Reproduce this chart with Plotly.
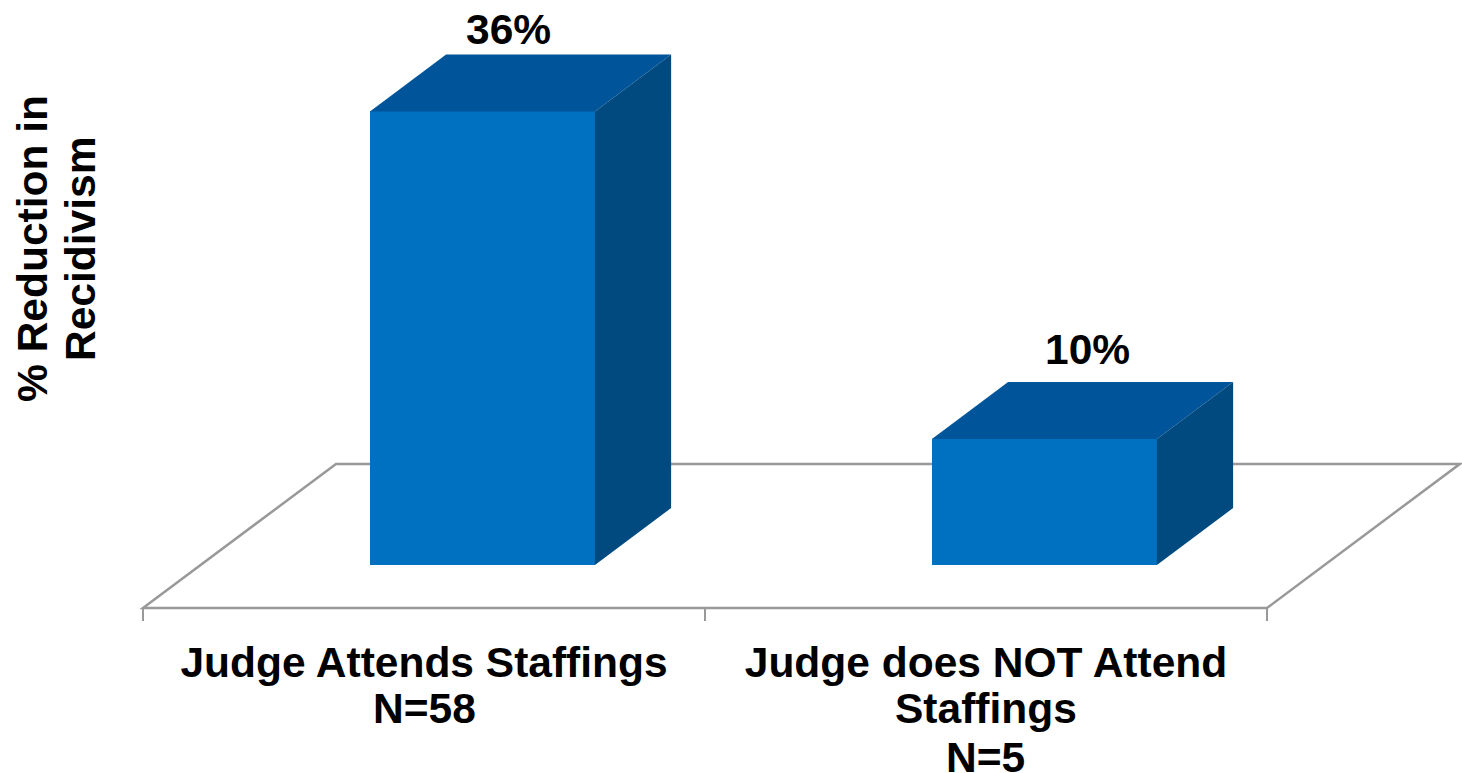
import plotly.graph_objects as go

# Data
categories_first_line = ["Judge Attends Staffings", "Judge does NOT Attend"]
categories_more_lines = [["N=58"], ["Staffings", "N=5"]]
reductions = [36, 10]
y_title_lines = ["% Reduction in", "Recidivism"]

# Geometry / style
POS = [0, 1]
BAR_SHIFT = 0.104
BAR_W = 0.4004
DEPTH_X = 0.1355
DEPTH_Y = 4.52
FLOOR_FRONT_Y = -3.41
FLOOR_BACK_Y = 8.016
FRONT = "#0070C0"
TOP = "#00559A"
SIDE = "#004A80"
GREY = "#999999"
FONT = "Liberation Sans"
SIZE = 42.5
LABEL_SHIFT = [(26, 25), (43.5, 33)]

fig = go.Figure()

xs = [p + BAR_SHIFT for p in POS]
fig.add_trace(go.Bar(x=xs, y=reductions, width=BAR_W, marker=dict(color=FRONT, line=dict(width=0)),
                     showlegend=False, hoverinfo="skip"))

for x, v in zip(xs, reductions):
    L, R = x - BAR_W / 2, x + BAR_W / 2
    fig.add_trace(go.Scatter(x=[L, R, R + DEPTH_X, L + DEPTH_X, L], y=[v, v, v + DEPTH_Y, v + DEPTH_Y, v],
                             mode="lines", fill="toself", fillcolor=TOP, line=dict(width=0),
                             showlegend=False, hoverinfo="skip"))
    fig.add_trace(go.Scatter(x=[R, R + DEPTH_X, R + DEPTH_X, R, R], y=[0, DEPTH_Y, v + DEPTH_Y, v, 0],
                             mode="lines", fill="toself", fillcolor=SIDE, line=dict(width=0),
                             showlegend=False, hoverinfo="skip"))

# Floor of the 3D chart, behind the bars
fig.add_shape(type="path", layer="below", xref="x", yref="y",
              path=(f"M -0.5 {FLOOR_FRONT_Y} L 1.5 {FLOOR_FRONT_Y} "
                    f"L 1.843 {FLOOR_BACK_Y} L -0.1566 {FLOOR_BACK_Y} Z"),
              line=dict(color=GREY, width=2.5), fillcolor="white")

ann = []
for x, v, (sx, sy) in zip(xs, reductions, LABEL_SHIFT):
    ann.append(dict(x=x, y=v + DEPTH_Y, xref="x", yref="y", text=f"<b>{v}%</b>", showarrow=False,
                    xshift=sx, yshift=sy, xanchor="center", yanchor="middle",
                    font=dict(family=FONT, size=SIZE, color="black")))
for p, lines in zip(POS, categories_more_lines):
    for i, t in enumerate(lines):
        ann.append(dict(x=p, y=0, xref="x", yref="paper", text=f"<b>{t}</b>", showarrow=False,
                        yshift=-(68 + 49 * i), xanchor="center", yanchor="middle",
                        font=dict(family=FONT, size=SIZE, color="black")))
for t, sx in zip(y_title_lines, [-100, -52]):
    ann.append(dict(x=0, y=0.611, xref="paper", yref="paper", text=f"<b>{t}</b>", showarrow=False,
                    xshift=sx, textangle=-90, xanchor="center", yanchor="middle",
                    font=dict(family=FONT, size=SIZE, color="black")))

fig.update_layout(
    width=1462, height=773,
    margin=dict(l=133, r=0, t=0, b=133, pad=0),
    paper_bgcolor="white", plot_bgcolor="white",
    font=dict(family=FONT, color="black"),
    annotations=ann,
    bargap=0,
    xaxis=dict(
        range=[-0.5178, 1.847], anchor="free", position=0.05,
        showgrid=False, zeroline=False, showline=False,
        tickmode="array", tickvals=POS,
        ticktext=[f"<b>{t}</b>" for t in categories_first_line],
        ticks="", tickangle=0, ticklabelstandoff=25,
        tickfont=dict(family=FONT, size=SIZE, color="black"),
        minor=dict(tickmode="array", tickvals=[-0.5, 0.5, 1.5], ticks="outside",
                   ticklen=12, tickwidth=1.5, tickcolor=GREY, showgrid=False),
        fixedrange=True,
    ),
    yaxis=dict(range=[-5.952, 44.84], visible=False, fixedrange=True),
)

fig.write_html("out.html", post_script="document.body.style.margin='0';", config={"displayModeBar": False})
